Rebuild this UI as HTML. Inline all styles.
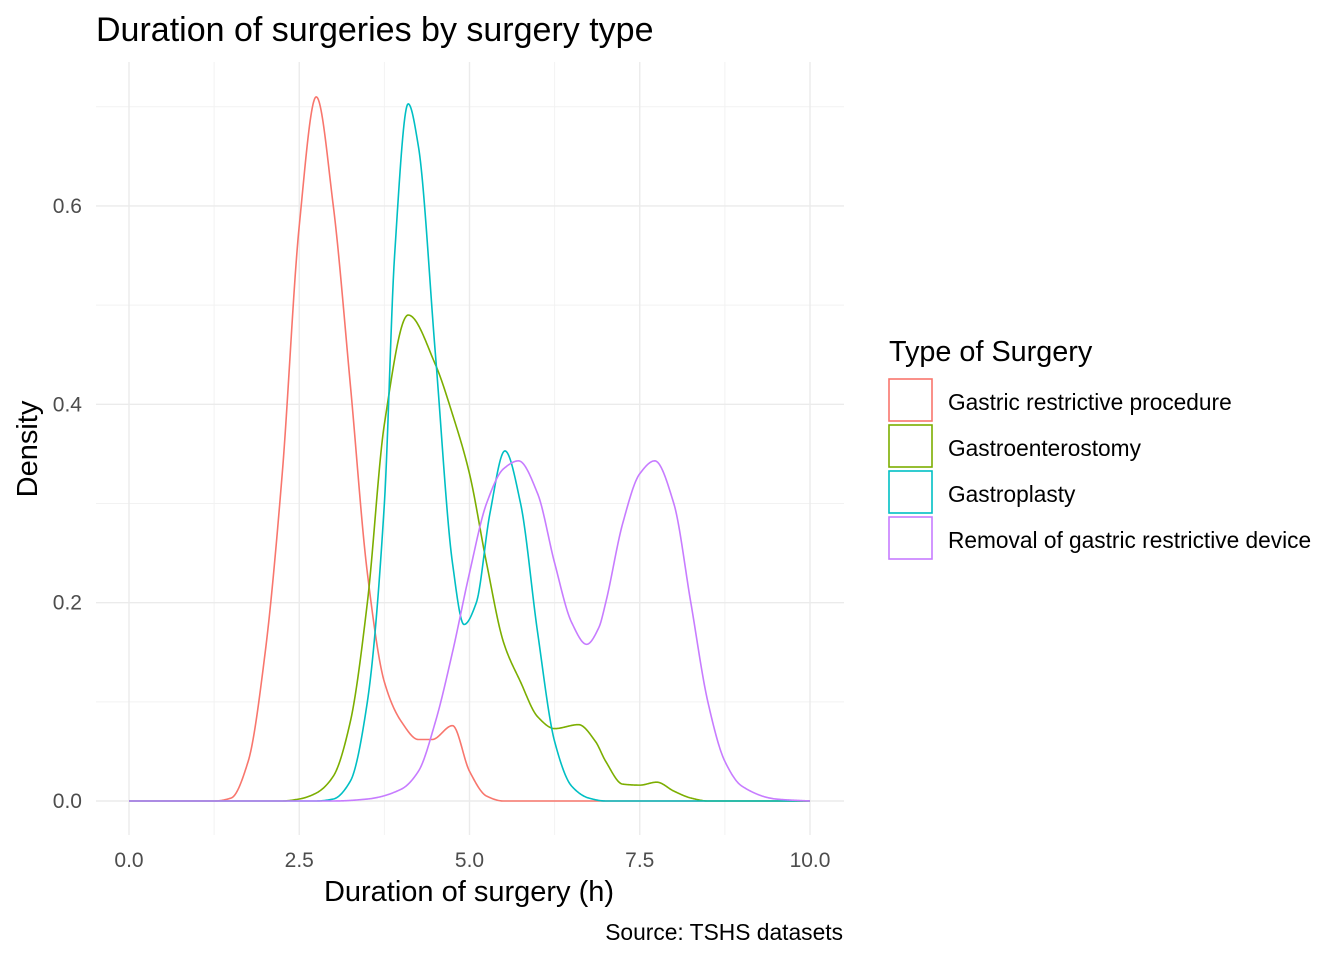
<!DOCTYPE html>
<html><head><meta charset="utf-8"><style>
body{margin:0;background:#fff;}
svg text{font-family:"Liberation Sans",Arial,sans-serif;}
</style></head><body>
<svg id="chart" width="1344" height="960" xmlns="http://www.w3.org/2000/svg">
<rect width="1344" height="960" fill="#fff"/>
<g id="grid"></g>
<g id="series"></g>
<g id="axes"></g>
<text x="96" y="41" font-size="34" fill="#000">Duration of surgeries by surgery type</text>
<text x="469" y="901" font-size="29" text-anchor="middle" fill="#000">Duration of surgery (h)</text>
<text transform="translate(37,449) rotate(-90)" font-size="29" text-anchor="middle" fill="#000">Density</text>
<text x="843" y="940" font-size="22.8" text-anchor="end" fill="#000">Source: TSHS datasets</text>
<g id="legend">
<text x="889" y="361" font-size="28.8" fill="#000">Type of Surgery</text>
</g>
</svg>
<script>
const xTicks=[0,2.5,5,7.5,10];
const xTickLabels=["0.0","2.5","5.0","7.5","10.0"];
const yTicks=[0,0.2,0.4,0.6];
const yTickLabels=["0.0","0.2","0.4","0.6"];
const seriesNames=["Gastric restrictive procedure","Gastroenterostomy","Gastroplasty","Removal of gastric restrictive device"];
const seriesColors=["#F8766D","#7CAE00","#00BFC4","#C77CFF"];
const redX=[0,1.25,1.5,1.75,2.0,2.25,2.5,2.75,3.0,3.25,3.5,3.75,4.0,4.25,4.45,4.75,5.0,5.25,5.5,10];
const redY=[0,0,0.003,0.04,0.15,0.33,0.58,0.71,0.6,0.42,0.23,0.12,0.08,0.062,0.062,0.076,0.03,0.005,0,0];
const greenX=[0,2.25,2.5,2.75,3.0,3.25,3.5,3.75,4.1,4.5,4.75,5.0,5.25,5.5,5.75,6.0,6.25,6.6,6.85,7.0,7.25,7.5,7.75,8.0,8.25,8.5,10];
const greenY=[0,0,0.002,0.008,0.025,0.08,0.2,0.38,0.49,0.44,0.39,0.33,0.24,0.16,0.12,0.085,0.073,0.077,0.06,0.04,0.017,0.016,0.019,0.01,0.003,0,0];
const cyanX=[0,2.75,3.0,3.25,3.5,3.75,3.9,4.1,4.25,4.5,4.75,4.92,5.1,5.3,5.52,5.75,6.0,6.25,6.5,6.75,7.0,10];
const cyanY=[0,0,0.002,0.02,0.1,0.3,0.55,0.703,0.66,0.45,0.24,0.178,0.2,0.29,0.353,0.3,0.17,0.06,0.015,0.003,0,0];
const purpleX=[0,3.0,3.5,4.0,4.25,4.5,4.75,5.0,5.25,5.5,5.72,6.0,6.25,6.5,6.72,6.9,7.0,7.25,7.5,7.72,8.0,8.25,8.5,8.75,9.0,9.5,10];
const purpleY=[0,0,0.002,0.012,0.03,0.08,0.15,0.23,0.3,0.335,0.343,0.31,0.24,0.18,0.158,0.175,0.2,0.28,0.33,0.343,0.3,0.2,0.1,0.04,0.015,0.002,0];
const allX=[redX,greenX,cyanX,purpleX], allY=[redY,greenY,cyanY,purpleY];

const NS="http://www.w3.org/2000/svg";
const X0=96,X1=844,Y0=62,Y1=835;
const sx=v=>129+v*68.1;
const sy=v=>801-v*991.7;
function mk(tag,attrs,parent){const e=document.createElementNS(NS,tag);for(const k in attrs)e.setAttribute(k,attrs[k]);parent.appendChild(e);return e;}
const grid=document.getElementById('grid'),axes=document.getElementById('axes'),ser=document.getElementById('series'),leg=document.getElementById('legend');
for(let i=0;i<xTicks.length-1;i++){const v=(xTicks[i]+xTicks[i+1])/2;const l=mk('line',{x1:sx(v),x2:sx(v),y1:Y0,y2:Y1,stroke:'#f2f2f2','stroke-width':1},grid);
}
for(let i=0;i<yTicks.length;i++){const v=yTicks[i]+0.1;const l=mk('line',{x1:X0,x2:X1,y1:sy(v),y2:sy(v),stroke:'#f2f2f2','stroke-width':1},grid);
}
xTicks.forEach((v,i)=>{const l=mk('line',{x1:sx(v),x2:sx(v),y1:Y0,y2:Y1,stroke:'#ebebeb','stroke-width':1.4},grid);

const t=mk('text',{x:sx(v),y:867,'font-size':21,'text-anchor':'middle',fill:'#4d4d4d'},axes);t.textContent=xTickLabels[i];
});
yTicks.forEach((v,i)=>{const l=mk('line',{x1:X0,x2:X1,y1:sy(v),y2:sy(v),stroke:'#ebebeb','stroke-width':1.4},grid);

const t=mk('text',{x:82,y:sy(v)+7,'font-size':21,'text-anchor':'end',fill:'#4d4d4d'},axes);t.textContent=yTickLabels[i];
});
// monotone cubic interpolation (no overshoot)
function mono(xs,ys){const n=xs.length,d=[],m=new Array(n);
for(let i=0;i<n-1;i++)d.push((ys[i+1]-ys[i])/(xs[i+1]-xs[i]));
m[0]=d[0];m[n-1]=d[n-2];
for(let i=1;i<n-1;i++){if(d[i-1]*d[i]<=0)m[i]=0;else{const h0=xs[i]-xs[i-1],h1=xs[i+1]-xs[i];const w1=2*h1+h0,w2=h1+2*h0;m[i]=(w1+w2)/(w1/d[i-1]+w2/d[i]);}}
return x=>{let i=0;while(i<n-2&&x>xs[i+1])i++;const h=xs[i+1]-xs[i],t=(x-xs[i])/h,t2=t*t,t3=t2*t;
return (2*t3-3*t2+1)*ys[i]+(t3-2*t2+t)*h*m[i]+(-2*t3+3*t2)*ys[i+1]+(t3-t2)*h*m[i+1];};}
const names=['density-gastric-restrictive','density-gastroenterostomy','density-gastroplasty','density-removal-device'];
for(let s=0;s<4;s++){const f=mono(allX[s],allY[s]);let d='';
for(let k=0;k<=1000;k++){const x=k/100;d+=(k?'L':'M')+sx(x).toFixed(2)+','+sy(Math.max(0,f(x))).toFixed(2);}
const p=mk('path',{d:d,fill:'none',stroke:seriesColors[s],'stroke-width':1.6,'stroke-linejoin':'round'},ser);

const ky=379+s*46;
const r=mk('rect',{x:889,y:ky,width:43,height:42,fill:'#fff',stroke:seriesColors[s],'stroke-width':1.6},leg);

const t=mk('text',{x:948,y:ky+31,'font-size':22.7,fill:'#000'},leg);t.textContent=seriesNames[s];
}
</script>
</body></html>
